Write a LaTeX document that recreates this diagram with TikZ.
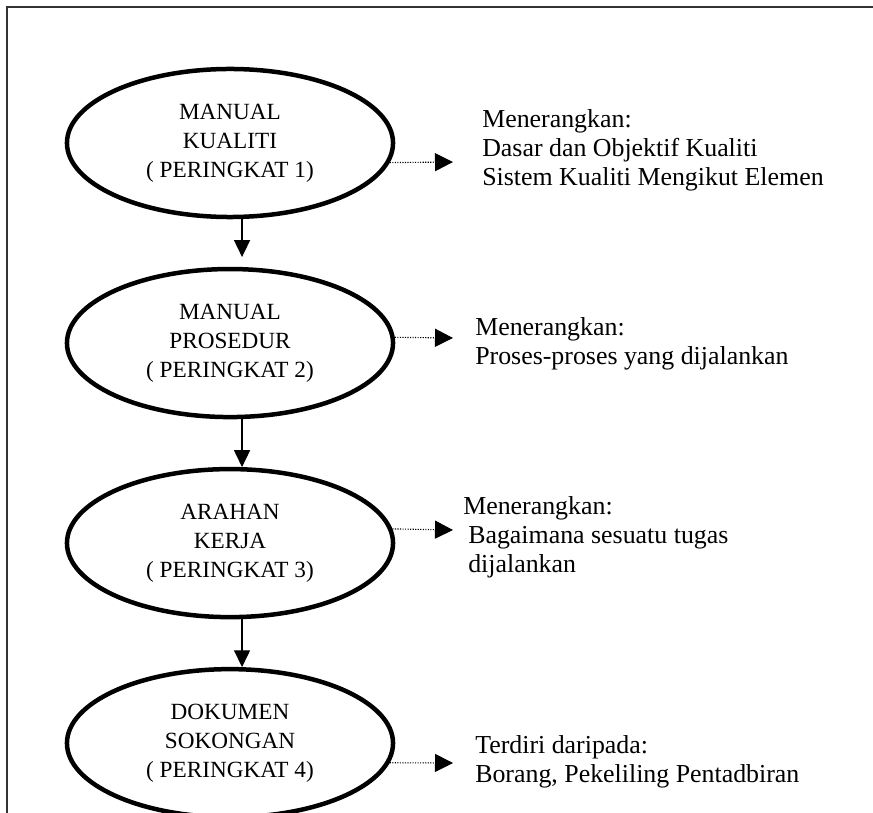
\documentclass[tikz,border=0pt]{standalone}
\usepackage{fontspec}
\setmainfont{Liberation Serif}
\usetikzlibrary{shapes.geometric,arrows.meta,positioning}

\begin{document}
\begin{tikzpicture}[
    x=0.025cm, y=-0.025cm,
    node distance=5cm,
    every node/.style={align=center},
    level/.style={ellipse, draw, line width=3.2pt, minimum width=8.15cm, minimum height=3.7cm, inner sep=0pt, font=\fontsize{16.5}{20.6}\selectfont},
    note/.style={anchor=west, align=left, inner sep=0pt, font=\fontsize{18.4}{20.6}\selectfont},
    arrow/.style={line width=0.8pt, -{Triangle[length=0.42cm,width=0.4cm]}},
    dotarrow/.style={line width=0.8pt, dash pattern=on 0.8pt off 1pt, -{Triangle[length=0.45cm,width=0.45cm]}}
]
\clip (0,0) rectangle (873,813);

% frame
\draw[line width=1pt, black!80] (7,813) -- (7,7) -- (873,7);

% the four levels
\node[level] (kualiti) at (230,143) {MANUAL\\KUALITI\\( PERINGKAT 1)};
\node[level, below of=kualiti] (prosedur) {MANUAL\\PROSEDUR\\( PERINGKAT 2)};
\node[level, below of=prosedur] (arahan) {ARAHAN\\KERJA\\( PERINGKAT 3)};
\node[level, below of=arahan] (sokongan) {DOKUMEN\\SOKONGAN\\( PERINGKAT 4)};

% notes
\node[note] (nota1) at (482,150) {Menerangkan:\\Dasar dan Objektif Kualiti\\Sistem Kualiti Mengikut Elemen};
\node[note] (nota2) at (475,344) {Menerangkan:\\Proses-proses yang dijalankan};
\node[note] (nota3) at (468,537) {\hspace*{-0.125cm}Menerangkan:\\Bagaimana sesuatu tugas\\dijalankan};
\node[note] (nota4) at (475,762) {Terdiri daripada:\\Borang, Pekeliling Pentadbiran};

\coordinate (tip1) at (453,162);
\coordinate (tip2) at (453,338);
\coordinate (tip3) at (453,530);
\coordinate (tip4) at (453,763);

% connections
\draw[arrow, shorten >=0.25cm] (kualiti.-81) -- (prosedur.81);
\draw[arrow] (prosedur.-81) -- (arahan.81);
\draw[arrow] (arahan.-81) -- (sokongan.81);

\draw[dotarrow] (kualiti.-7) -- (tip1);
\draw[dotarrow] (prosedur.2) -- (tip2);
\draw[dotarrow] (arahan.5) -- (tip3);
\draw[dotarrow] (sokongan.-7) -- (tip4);

\end{tikzpicture}
\end{document}
